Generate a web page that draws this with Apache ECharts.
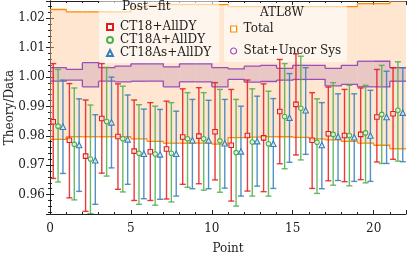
<!DOCTYPE html>
<html><head><meta charset="utf-8">
<script src="https://cdn.jsdelivr.net/npm/echarts@6/dist/echarts.min.js"></script>
<style>html,body{margin:0;padding:0;background:#fff}#c{width:407px;height:260px}</style>
</head><body><div id="c"></div>
<script>
const points = [0,1,2,3,4,5,6,7,8,9,10,11,12,13,14,15,16,17,18,19,20,21];
const xTicks = [0,5,10,15,20];
const yTicks = [0.96,0.97,0.98,0.99,1.00,1.01,1.02];

const ct18 = [0.9848,0.9785,0.9731,0.9859,0.9798,0.9748,0.9746,0.9755,0.9796,0.9799,0.9814,0.9768,0.9801,0.9793,0.9883,0.9907,0.9785,0.9807,0.9801,0.9805,0.9864,0.9875];
const ct18Hi = [1.0046,0.9978,0.9922,1.0046,0.9977,0.9922,0.9913,0.9918,0.9960,0.9964,0.9981,0.9958,0.9990,0.9977,1.0060,1.0079,0.9947,0.9966,0.9958,0.9963,1.0026,1.0032];
const ct18Lo = [0.9655,0.9589,0.9543,0.9673,0.9618,0.9580,0.9580,0.9585,0.9635,0.9637,0.9650,0.9578,0.9612,0.9610,0.9705,0.9735,0.9621,0.9647,0.9644,0.9651,0.9711,0.9720];

const ct18A = [0.9833,0.9771,0.9721,0.9849,0.9790,0.9741,0.9738,0.9741,0.9790,0.9790,0.9783,0.9743,0.9779,0.9773,0.9866,0.9894,0.9778,0.9805,0.9801,0.9810,0.9873,0.9887];
const ct18AHi = [1.0026,0.9963,0.9905,1.0033,0.9969,0.9906,0.9901,0.9913,0.9947,0.9947,0.9958,0.9924,0.9960,0.9952,1.0046,1.0071,0.9926,0.9981,0.9972,0.9972,1.0040,1.0052];
const ct18ALo = [0.9643,0.9582,0.9535,0.9663,0.9609,0.9567,0.9564,0.9575,0.9625,0.9615,0.9608,0.9561,0.9595,0.9595,0.9688,0.9718,0.9604,0.9632,0.9630,0.9640,0.9706,0.9714];

const ct18As = [0.9831,0.9769,0.9717,0.9846,0.9788,0.9739,0.9737,0.9739,0.9785,0.9785,0.9775,0.9747,0.9782,0.9773,0.9862,0.9887,0.9769,0.9798,0.9795,0.9801,0.9864,0.9879];
const ct18AsHi = [0.9990,0.9926,0.9872,1.0000,0.9939,0.9891,0.9890,0.9884,0.9924,0.9921,0.9924,0.9901,0.9935,0.9927,1.0012,1.0032,0.9913,0.9943,0.9943,0.9955,1.0020,1.0032];
const ct18AsLo = [0.9672,0.9611,0.9567,0.9691,0.9635,0.9586,0.9584,0.9595,0.9620,0.9620,0.9622,0.9595,0.9629,0.9621,0.9710,0.9737,0.9620,0.9648,0.9645,0.9645,0.9706,0.9712];

const totalHi = [1.0230,1.0222,1.0222,1.0222,1.0222,1.0240,1.0245,1.0247,1.0247,1.0247,1.0247,1.0240,1.0240,1.0240,1.0240,1.0240,1.0240,1.0240,1.0240,1.0250,1.0250,1.0262];
const totalLo = [0.9788,0.9797,0.9797,0.9797,0.9797,0.9790,0.9781,0.9775,0.9775,0.9775,0.9772,0.9794,0.9796,0.9797,0.9797,0.9795,0.9790,0.9786,0.9781,0.9775,0.9768,0.9756];
const statHi = [1.0032,1.0026,1.0049,1.0032,1.0037,1.0045,1.0045,1.0035,1.0045,1.0045,1.0032,1.0028,1.0037,1.0040,1.0030,1.0040,1.0040,1.0030,1.0040,1.0054,1.0054,1.0032];
const statLo = [0.9986,0.9990,0.9967,0.9986,0.9984,0.9986,0.9986,0.9967,0.9984,0.9984,0.9967,0.9992,0.9983,0.9985,0.9990,0.9992,0.9992,0.9970,0.9975,0.9967,0.9967,0.9986];

const RED='#e41a1c', GREEN='#4daf4a', BLUE='#377eb8', ORANGE='#ff8c00', PURPLE='#9a4fb8';
const FONT='DejaVu Serif';

function bandSeries(name, lo, hi, lineColor, fill, z){
  const data = points.map((p,i)=>[p, lo[i], hi[i], i]);
  return {
    type:'custom', name, z, clip:true, silent:true,
    data,
    renderItem(params, api){
      const x = api.value(0), l = api.value(1), h = api.value(2), i = api.value(3);
      const a = api.coord([x, h]), b = api.coord([x+1, l]);
      const children = [{
        type:'rect', shape:{x:a[0], y:a[1], width:b[0]-a[0], height:b[1]-a[1]},
        style:{fill:fill}
      }];
      const topPts = [api.coord([x,h]), api.coord([x+1,h])];
      const botPts = [api.coord([x,l]), api.coord([x+1,l])];
      if (i < points.length-1){
        topPts.push(api.coord([x+1, hi[i+1]]));
        botPts.push(api.coord([x+1, lo[i+1]]));
      }
      children.push({type:'polyline', shape:{points:topPts}, style:{stroke:lineColor, lineWidth:1.3, fill:null}});
      children.push({type:'polyline', shape:{points:botPts}, style:{stroke:lineColor, lineWidth:1.3, fill:null}});
      return {type:'group', children};
    }
  };
}

function errSeries(name, off, lo, hi, color){
  return {
    type:'custom', name: name+'_err', z:5, clip:true, silent:true,
    data: points.map((p,i)=>[p+off, lo[i], hi[i]]),
    renderItem(params, api){
      const x = api.value(0);
      const t = api.coord([x, api.value(2)]), b = api.coord([x, api.value(1)]);
      const s = {stroke:color, lineWidth:1.4, opacity:0.85};
      return {type:'group', children:[
        {type:'line', shape:{x1:t[0],y1:t[1],x2:b[0],y2:b[1]}, style:s},
        {type:'line', shape:{x1:t[0]-3,y1:t[1],x2:t[0]+3,y2:t[1]}, style:s},
        {type:'line', shape:{x1:b[0]-3,y1:b[1],x2:b[0]+3,y2:b[1]}, style:s}
      ]};
    }
  };
}

function markSeries(name, off, vals, color, symbol, size){
  return {
    type:'scatter', name, z:6, symbol, symbolSize:size,
    data: points.map((p,i)=>[p+off, vals[i]]),
    itemStyle:{color:'rgba(255,255,255,0.7)', borderColor:color, borderWidth:1.1, opacity:1}
  };
}

const option = {
  animation:false,
  textStyle:{fontFamily:FONT},
  grid:{left:50, right:1, top:1, bottom:46, containLabel:false, outerBoundsMode:'none'},
  xAxis:[{
    type:'value', min:0, max:22, interval:5,
    name:'Point', nameLocation:'middle', nameGap:29,
    nameTextStyle:{fontFamily:FONT, fontSize:12, color:'#222'},
    axisLine:{lineStyle:{color:'#222'}},
    axisTick:{inside:true, length:4, lineStyle:{color:'#222'}},
    minorTick:{show:true, splitNumber:5, length:2, lineStyle:{color:'#222'}},
    axisLabel:{fontFamily:FONT, fontSize:12, color:'#222', margin:9, showMaxLabel:false,
      formatter:v=> xTicks.includes(v)? String(v):''},
    splitLine:{show:false}
  },{
    type:'value', min:0, max:22, interval:5, position:'top',
    axisLine:{lineStyle:{color:'#222'}},
    axisTick:{inside:true, length:4, lineStyle:{color:'#222'}},
    minorTick:{show:true, splitNumber:5, length:2, lineStyle:{color:'#222'}},
    axisLabel:{show:false}, splitLine:{show:false}
  }],
  yAxis:[{
    type:'value', min:0.9534, max:1.0259, splitNumber:7,
    name:'Theory/Data', nameLocation:'middle', nameGap:34, nameMoveOverlap:false,
    nameTextStyle:{fontFamily:FONT, fontSize:12, color:'#222'},
    axisLine:{show:true, lineStyle:{color:'#222'}},
    axisTick:{inside:true, length:4, lineStyle:{color:'#222'}},
    minorTick:{show:true, splitNumber:5, length:2, lineStyle:{color:'#222'}},
    axisLabel:{fontFamily:FONT, fontSize:12, color:'#222', margin:5, showMinLabel:false, showMaxLabel:false,
      formatter:v=>{const r=Math.round(v*100)/100; return yTicks.some(t=>Math.abs(t-v)<1e-6)? r.toFixed(2):'';}},
    splitLine:{show:false}
  },{
    type:'value', min:0.9534, max:1.0259, splitNumber:7, position:'right',
    axisLine:{show:true, lineStyle:{color:'#222'}},
    axisTick:{inside:true, length:4, lineStyle:{color:'#222'}},
    minorTick:{show:true, splitNumber:5, length:2, lineStyle:{color:'#222'}},
    axisLabel:{show:false}, splitLine:{show:false}
  }],
  legend:[{
    orient:'vertical', left:99, top:0, padding:[21,8,4,7], itemGap:1,
    itemWidth:6, itemHeight:6, selectedMode:false,
    backgroundColor:'rgba(255,255,255,0.6)', borderRadius:3,
    textStyle:{fontFamily:FONT, fontSize:12, color:'#222', padding:[0,0,0,2]},
    data:[{name:'CT18+AllDY', icon:'rect'},{name:'CT18A+AllDY', icon:'circle'},{name:'CT18As+AllDY', icon:'triangle'}]
  },{
    orient:'vertical', left:224, top:5, padding:[18,6,5,6], itemGap:10,
    itemWidth:6, itemHeight:6, selectedMode:false,
    backgroundColor:'rgba(255,255,255,0.6)', borderRadius:3,
    textStyle:{fontFamily:FONT, fontSize:12, color:'#222', padding:[0,0,0,2]},
    data:[
      {name:'Total', icon:'rect', itemStyle:{color:'#fff', borderColor:ORANGE, borderWidth:1.2}},
      {name:'Stat+Uncor Sys', icon:'circle', itemStyle:{color:'#fff', borderColor:PURPLE, borderWidth:1.2}}
    ]
  }],
  graphic:[
    {type:'text', left:122, top:1, z:100, style:{text:'Post\u2212fit', font:'12px "DejaVu Serif"', fill:'#222'}},
    {type:'text', left:260, top:7, z:100, style:{text:'ATL8W', font:'12px "DejaVu Serif"', fill:'#222'}}
  ],
  series:[
    bandSeries('Total', totalLo, totalHi, ORANGE, 'rgba(253,200,150,0.45)', 1),
    bandSeries('Stat+Uncor Sys', statLo, statHi, PURPLE, 'rgba(140,60,150,0.18)', 2),
    errSeries('CT18+AllDY', 0.2, ct18Lo, ct18Hi, RED),
    errSeries('CT18A+AllDY', 0.5, ct18ALo, ct18AHi, GREEN),
    errSeries('CT18As+AllDY', 0.8, ct18AsLo, ct18AsHi, BLUE),
    markSeries('CT18+AllDY', 0.2, ct18, RED, 'rect', 4.5),
    markSeries('CT18A+AllDY', 0.5, ct18A, GREEN, 'circle', 4.5),
    markSeries('CT18As+AllDY', 0.8, ct18As, BLUE, 'triangle', 5.5)
  ]
};
const chart = echarts.init(document.getElementById('c'), null, {renderer:'canvas'});
chart.setOption(option);
</script></body></html>
